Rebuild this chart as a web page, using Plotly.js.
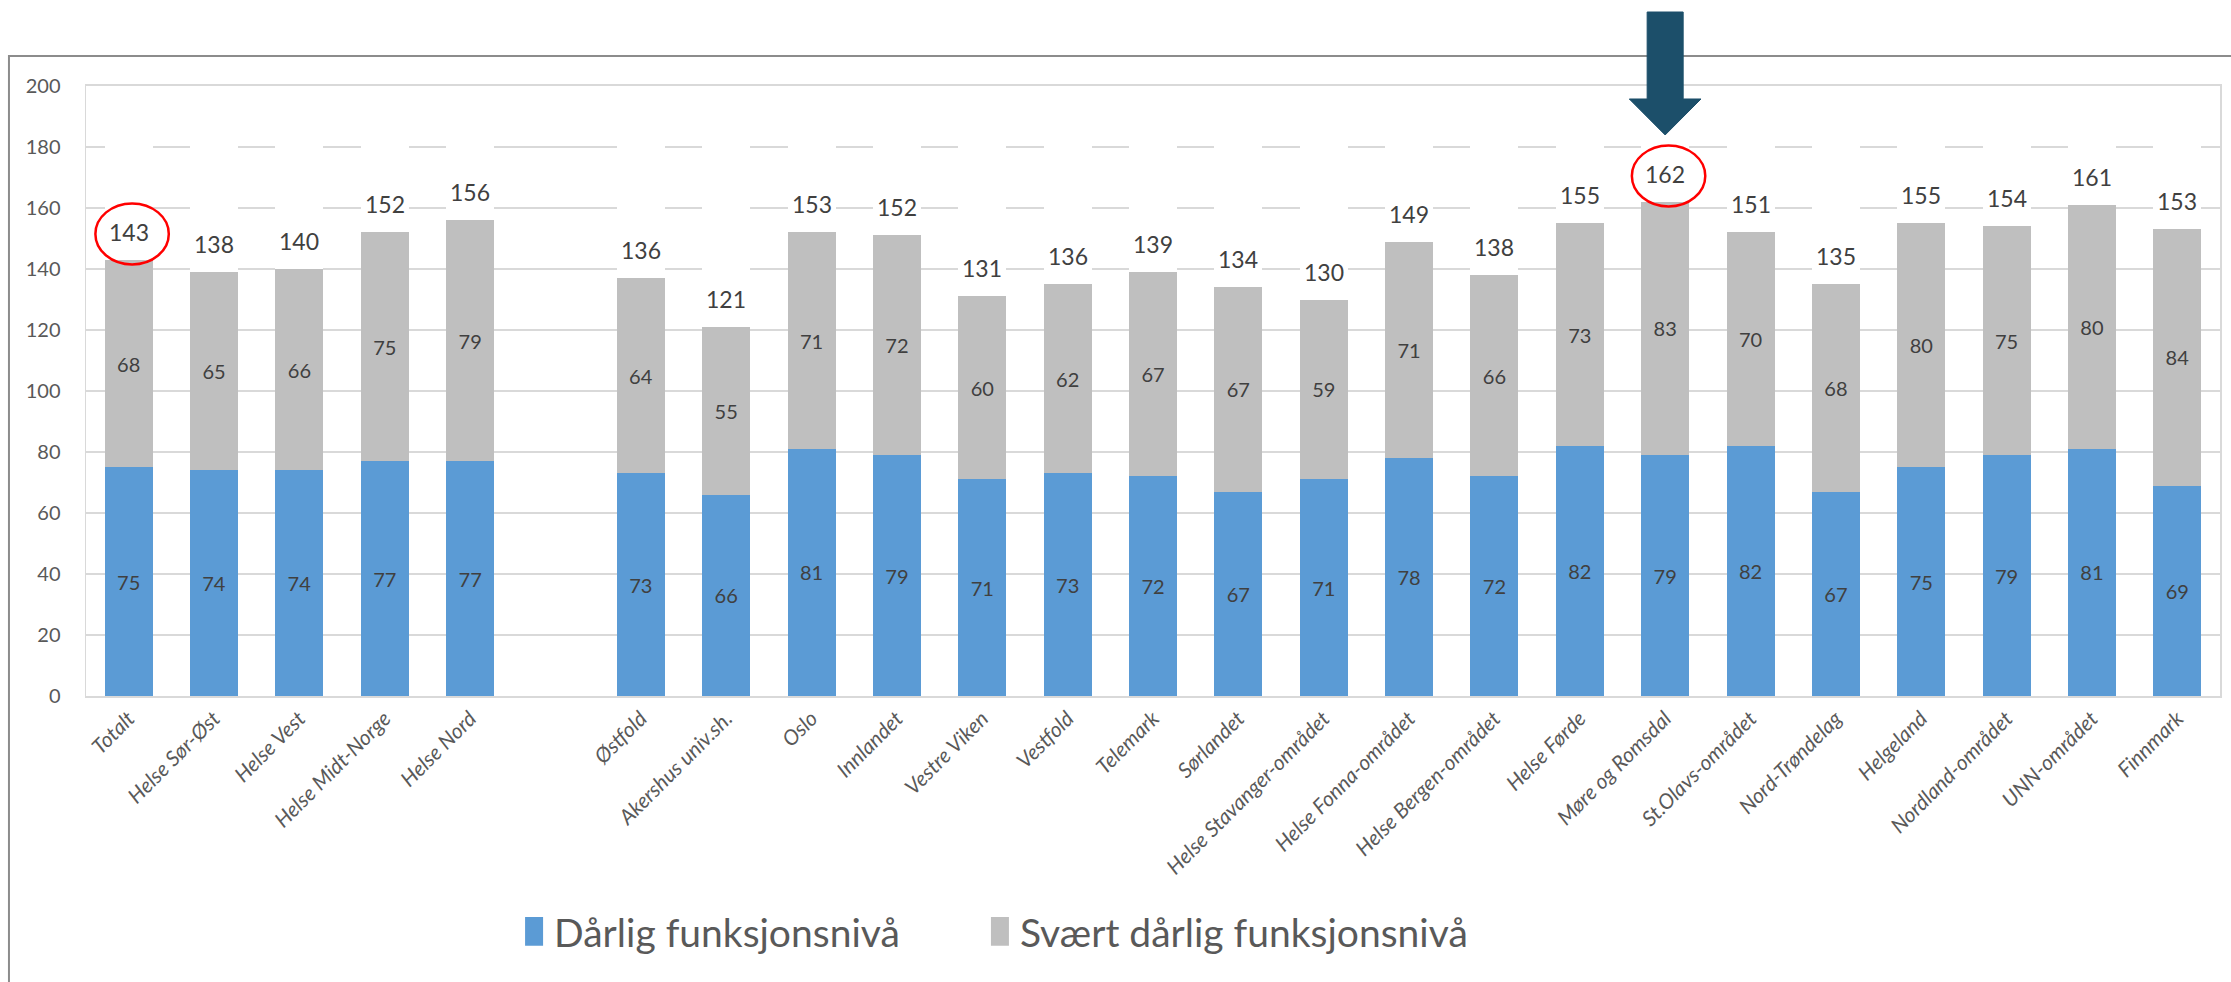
<!DOCTYPE html>
<html>
<head>
<meta charset="utf-8">
<script src="https://cdn.plot.ly/plotly-3.0.1.min.js"></script>
<style>
html,body{margin:0;padding:0;background:#ffffff;}
#chart{width:2231px;height:982px;}
</style>
</head>
<body>
<div id="chart"></div>
<script>
// ---- data ----
const categories = ['Totalt','Helse Sør-Øst','Helse Vest','Helse Midt-Norge','Helse Nord',' ',
  'Østfold','Akershus univ.sh.','Oslo','Innlandet','Vestre Viken','Vestfold','Telemark','Sørlandet',
  'Helse Stavanger-området','Helse Fonna-området','Helse Bergen-området','Helse Førde','Møre og Romsdal',
  'St.Olavs-området','Nord-Trøndelag','Helgeland','Nordland-området','UNN-området','Finnmark'];
const darlig       = [75,74,74,77,77,null,73,66,81,79,71,73,72,67,71,78,72,82,79,82,67,75,79,81,69];
const svaertDarlig = [68,65,66,75,79,null,64,55,71,72,60,62,67,67,59,71,66,73,83,70,68,80,75,80,84];
const totals       = [143,138,140,152,156,null,136,121,153,152,131,136,139,134,130,149,138,155,162,151,135,155,154,161,153];
const yTickVals = [0,20,40,60,80,100,120,140,160,180,200];
const seriesNames = ['Dårlig funksjonsnivå','Svært dårlig funksjonsnivå'];
const circled = ['Totalt','Møre og Romsdal'];
const arrowAt = 'Møre og Romsdal';

// ---- style ----
const FONT = 'Lato, "Open Sans", sans-serif';
const BLUE = '#5B9BD5', GREY = '#BFBFBF', LABEL = '#404040', AXIS = '#595959', GRID = '#D9D9D9';

const txt = a => a.map(v => v == null ? '' : String(v));

const traces = [
  {type:'bar', name:seriesNames[0], legend:'legend', x:categories, y:darlig, marker:{color:BLUE},
   text:txt(darlig), textposition:'inside', insidetextanchor:'middle', textangle:0, constraintext:'none',
   textfont:{family:FONT,size:20,color:LABEL}, hoverinfo:'x+y'},
  {type:'bar', name:seriesNames[1], legend:'legend2', x:categories, y:svaertDarlig, marker:{color:GREY},
   text:txt(svaertDarlig), textposition:'inside', insidetextanchor:'middle', textangle:0, constraintext:'none',
   textfont:{family:FONT,size:20,color:LABEL}, hoverinfo:'x+y'},
  // white cap series carrying the totals (masks gridlines above each column, as in the original)
  {type:'bar', name:'Total', x:categories, y:totals, marker:{color:'#ffffff'},
   showlegend:false, hoverinfo:'skip'}
];

const N = categories.length;
const annotations = [];
categories.forEach((c,i) => {
  if (totals[i] == null) return;
  annotations.push({x:c, y:darlig[i]+svaertDarlig[i], xref:'x', yref:'y', text:String(totals[i]),
    showarrow:false, yanchor:'bottom', yshift:12, font:{family:FONT,size:23,color:LABEL}});
});

const shapes = [];
// outer frame
shapes.push({type:'rect', xref:'paper', yref:'paper', x0:-0.0361, x1:1.01, y0:-0.52, y1:1.0492,
  line:{color:'#8C8C8C',width:2}, fillcolor:'rgba(0,0,0,0)', layer:'above'});
// red ellipses around highlighted totals
circled.forEach(c => {
  const i = categories.indexOf(c);
  const top = darlig[i] + svaertDarlig[i];
  shapes.push({type:'circle', xref:'x', yref:'y', x0:i-0.39, x1:i+0.47, y0:top-1.5, y1:top+18.5,
    line:{color:'#FF0000',width:2.5}, fillcolor:'rgba(0,0,0,0)', layer:'above'});
});
// block arrow
(function(){
  const i = categories.indexOf(arrowAt);
  const px = u => (i + 0.5 + u) / N;
  const yTop = 1.1213, yNeck = 0.9787, yTip = 0.9197;
  const s = 0.211, h = 0.42;
  const path = `M${px(-s)},${yTop} L${px(s)},${yTop} L${px(s)},${yNeck} L${px(h)},${yNeck} L${px(0)},${yTip} L${px(-h)},${yNeck} L${px(-s)},${yNeck} Z`;
  shapes.push({type:'path', xref:'paper', yref:'paper', path:path, fillcolor:'#1C4F6A',
    line:{color:'#1C4F6A',width:1}, layer:'above'});
})();

const legendBase = {orientation:'h', xanchor:'left', y:-0.386, yanchor:'middle',
  font:{family:FONT,size:39,color:AXIS}, bgcolor:'rgba(0,0,0,0)'};

const layout = {
  width:2231, height:982,
  margin:{l:86, r:11, t:86, b:286},
  paper_bgcolor:'#ffffff', plot_bgcolor:'#ffffff',
  barmode:'stack', bargap:0.4375,
  font:{family:FONT, color:AXIS},
  xaxis:{type:'category', categoryorder:'array', categoryarray:categories,
    tickangle:-45, tickfont:{family:FONT,size:21,color:AXIS,style:'italic'},
    showgrid:false, showline:true, linecolor:GRID, linewidth:2, mirror:true, ticks:'', fixedrange:true},
  yaxis:{range:[0,200], tickmode:'array', tickvals:yTickVals, ticktext:yTickVals.map(String),
    tickfont:{family:FONT,size:20,color:AXIS}, showgrid:true, gridcolor:GRID, gridwidth:1.5,
    zeroline:false, showline:true, linecolor:GRID, linewidth:1.5, mirror:true, ticks:'',
    ticklabelstandoff:20, fixedrange:true},
  showlegend:true,
  legend:Object.assign({}, legendBase, {x:0.2006}),
  legend2:Object.assign({}, legendBase, {x:0.4189}),
  annotations:annotations,
  shapes:shapes
};

Plotly.newPlot('chart', traces, layout, {displayModeBar:false, staticPlot:true}).then(function(){
  document.querySelectorAll('#chart .legendpoints path').forEach(function(p){
    const t = p.getAttribute('transform') || '';
    p.setAttribute('transform', t + ' scale(1.5,2.4)');
  });
});
</script>
</body>
</html>
